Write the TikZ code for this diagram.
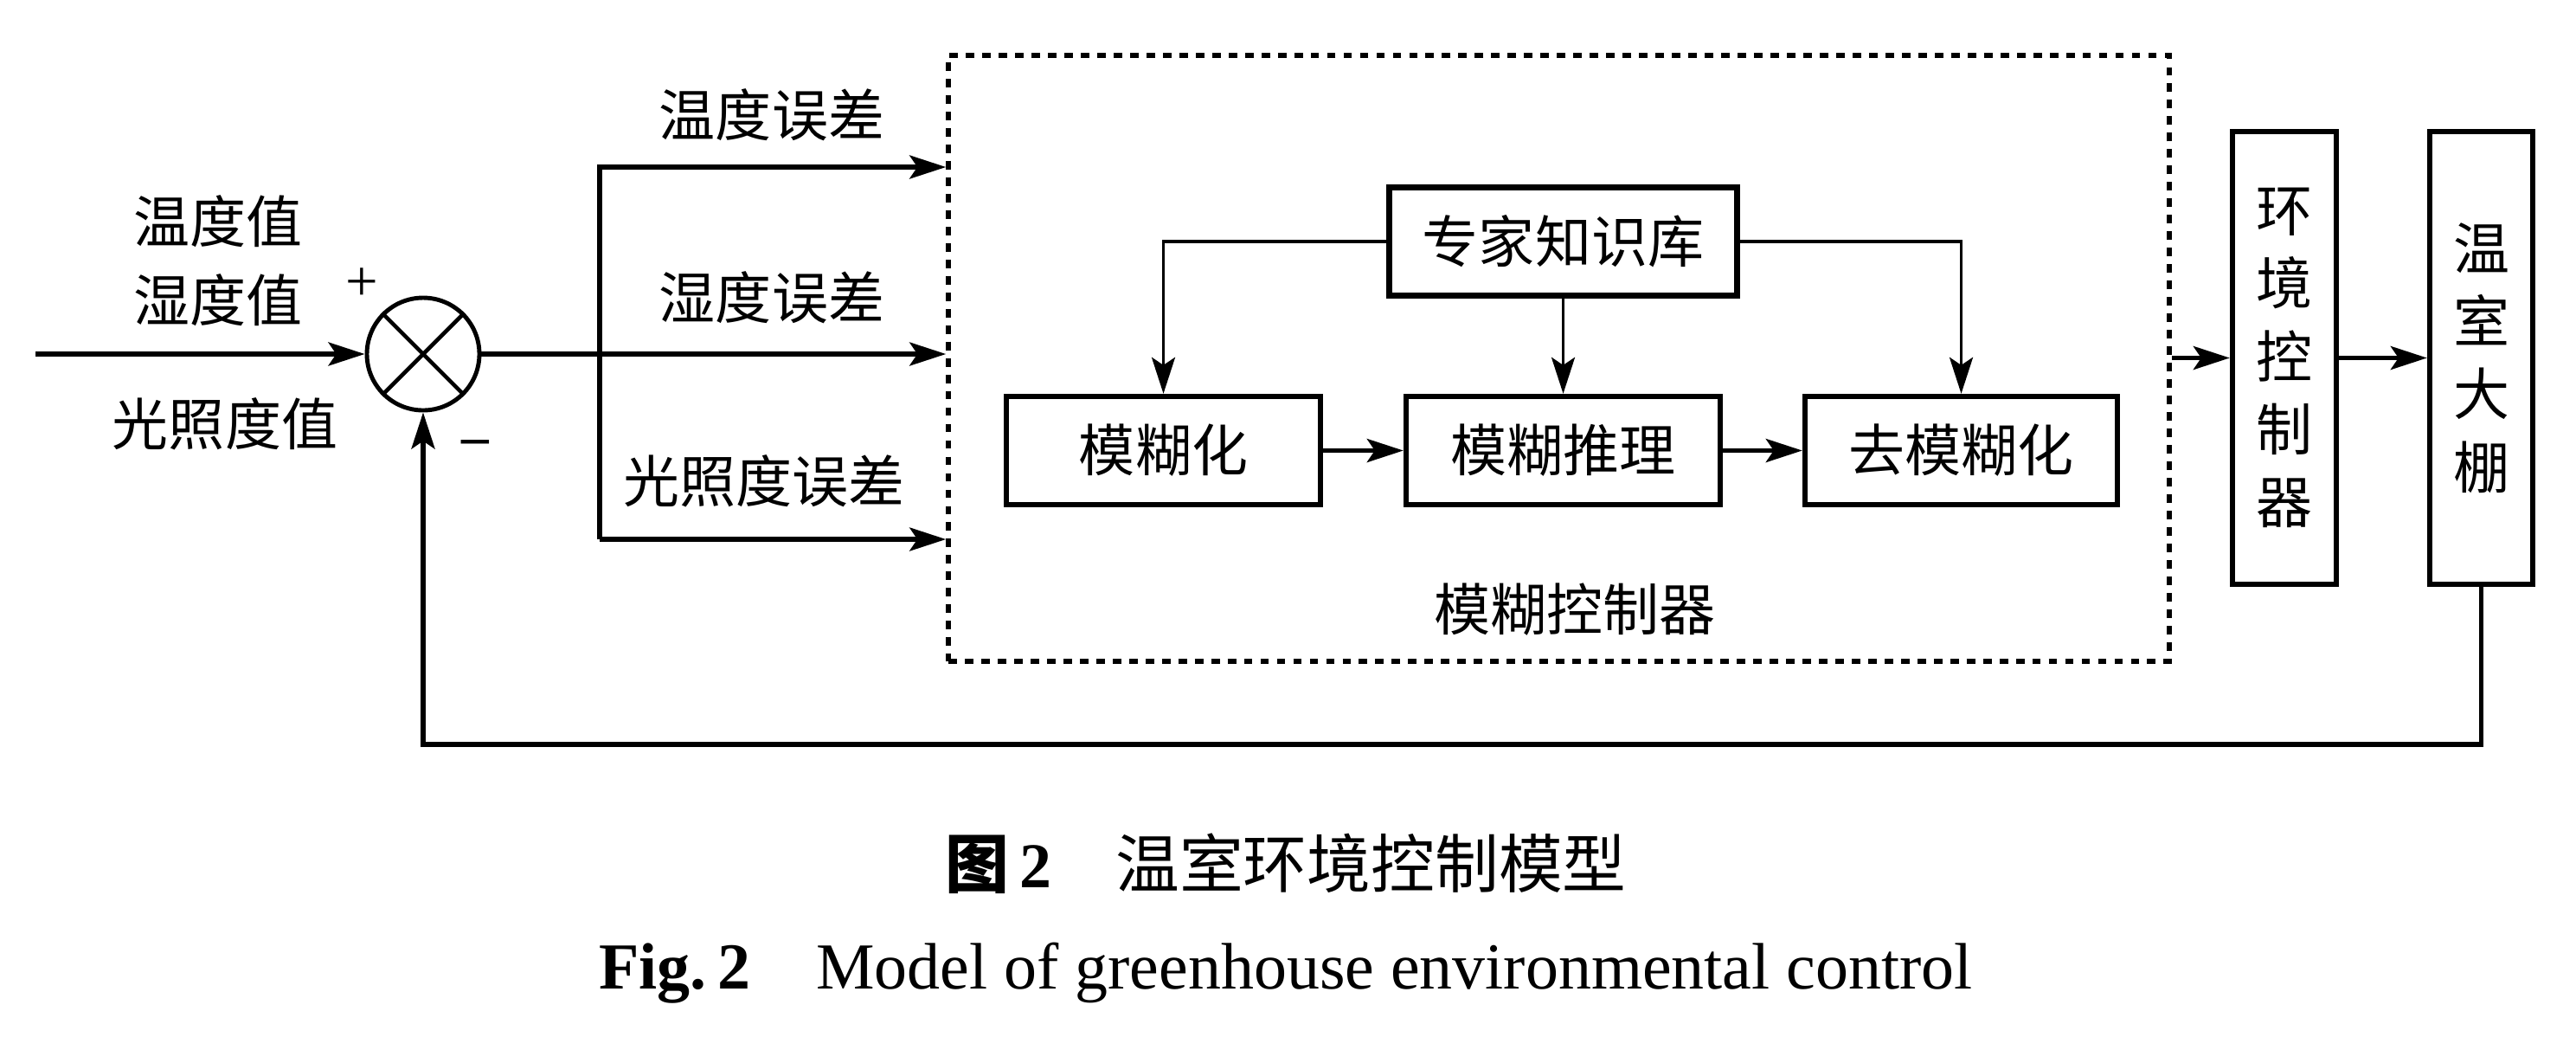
\documentclass[tikz,border=0pt]{standalone}
\usepackage{fontspec}
\setmainfont{Liberation Serif}
\newfontfamily\cjk{Noto Sans CJK SC}
\usetikzlibrary{arrows.meta,calc}

\begin{document}
\begin{tikzpicture}[
    block/.style={draw,line width=1.8pt,minimum height=1.25cm,minimum width=3.63cm,inner sep=0pt,align=center},
    tall/.style={draw,line width=1.8pt,minimum height=5.23cm,minimum width=1.2cm,inner sep=0pt,align=center},
    sum/.style={draw,circle,line width=1.4pt,minimum size=1.3cm,inner sep=0pt},
    frame/.style={draw,line width=1.6pt,dash pattern=on 2.8pt off 2.6pt,minimum width=14.11cm,minimum height=7cm},
    sig/.style={->,line width=1.5pt},
    kb/.style={->,line width=1.1pt},
    >={Stealth[length=4.2mm,width=2.7mm,inset=0.9mm]},
    font=\cjk\fontsize{18.5}{24}\selectfont,
]
    \useasboundingbox (0,0) rectangle (29.77,-11.97);

    \coordinate (in) at (0.41,-4.09);
    \node[sum] (s1) at (4.89,-4.09) {};
    \draw[line width=1.3pt] (s1.north west) -- (s1.south east) (s1.north east) -- (s1.south west);
    \node (plus) at (4.18,-3.29) {\rmfamily\fontsize{19}{19}\selectfont +};
    \node (minus) at (5.49,-5.17) {\rmfamily\bfseries\fontsize{18}{18}\selectfont –};

    \node (t) at (2.52,-2.56) {温度值};
    \node (h) at (2.52,-3.47) {湿度值};
    \node (l) at (2.60,-4.90) {光照度值};

    \node[frame] (fuzzy) at (18.015,-4.14) {};
    \node (fc) at (18.2,-7.04) {模糊控制器};

    \coordinate (br1) at (6.93,-1.93);
    \coordinate (br3) at (6.93,-6.23);
    \node (te) at (8.92,-1.33) {温度误差};
    \node (he) at (8.92,-3.44) {湿度误差};
    \node (le) at (8.83,-5.56) {光照度误差};

    \node[block,minimum width=4.02cm] (exp) at (18.065,-2.79) {专家知识库};
    \node[block] (fz) at (13.445,-5.205) {模糊化};
    \node[block] (inf) at (18.065,-5.205) {模糊推理};
    \node[block,minimum width=3.61cm] (dfz) at (22.665,-5.205) {去模糊化};

    \node[tall] (env) at (26.40,-4.135) {环\\境\\控\\制\\器};
    \node[tall,minimum width=1.19cm] (gh) at (28.675,-4.135) {温\\室\\大\\棚};
    \coordinate (fb) at (4.89,-8.60);

    \draw[sig] (in) -- (s1);
    \draw[sig] (s1) -- (fuzzy.west |- s1);
    \draw[sig] (br3) -- (br1) -- (fuzzy.west |- br1);
    \draw[sig] (br3) -- (fuzzy.west |- br3);

    \draw[kb] (exp.west) -| (fz.north);
    \draw[kb] (exp) -- (inf);
    \draw[kb] (exp.east) -| (dfz.north);
    \draw[sig] (fz) -- (inf);
    \draw[sig] (inf) -- (dfz);

    \draw[sig] (fuzzy.east |- env.west) -- (env.west);
    \draw[sig] (env) -- (gh);
    \draw[sig] (gh.south) |- (fb) -- (s1.south);

    \node (cap1) at (14.86,-9.98) {\fontsize{21}{24}\selectfont\textbf{图\,{\rmfamily 2}}\quad 温室环境控制模型};
    \node (cap2) at (14.86,-11.24) {\rmfamily\fontsize{21.6}{24}\selectfont\textbf{Fig.\,2}\quad Model of greenhouse environmental control};
\end{tikzpicture}
\end{document}
